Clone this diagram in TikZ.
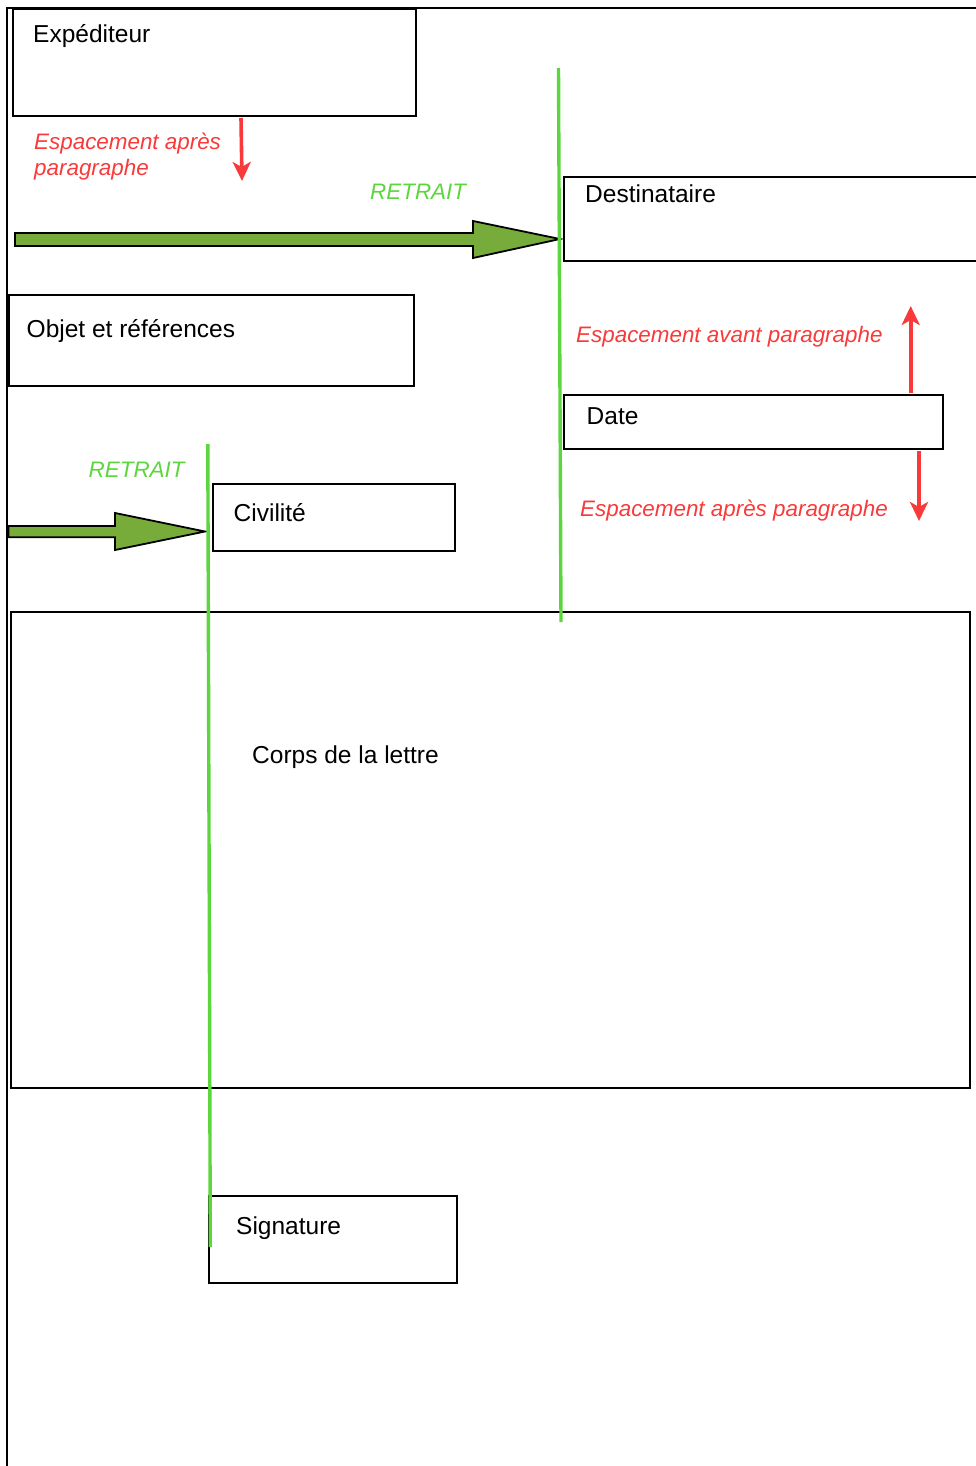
\documentclass[tikz,border=0pt]{standalone}
\usepackage{fontspec}
\setmainfont{Liberation Sans}
\usetikzlibrary{arrows.meta}
\definecolor{redc}{RGB}{248,58,58}
\definecolor{greenl}{RGB}{92,214,60}
\definecolor{greenf}{RGB}{120,172,58}
\tikzset{
  box/.style={draw=black, line width=2pt, inner sep=0pt, anchor=north west, fill=white},
  txt/.style={anchor=base west, inner sep=0pt, font=\fontsize{24.5}{28}\selectfont},
  redlab/.style={anchor=base west, inner sep=0pt, text=redc, font=\fontsize{22.4}{26}\selectfont\itshape},
  greenlab/.style={anchor=base west, inner sep=0pt, text=greenl, font=\fontsize{22.4}{26}\selectfont\itshape},
  redarrow/.style={draw=redc, line width=3.6pt, -{Stealth[length=19pt,width=18pt,inset=5pt]}},
  guide/.style={draw=greenl, line width=3.4pt},
  blockarrow/.style={draw=black, line width=1.8pt, fill=greenf, line join=miter},
  page/.style={draw=black, line width=2pt}
}
\begin{document}
\begin{tikzpicture}[x=1pt,y=-1pt]
\useasboundingbox (0,0) rectangle (975,1466);
% page outline
\coordinate (ptl) at (7,8);
\coordinate (ptr) at (990,8);
\coordinate (pbl) at (7,1470);
\draw[page] (ptr) -- (ptl) -- (pbl);
% boxes
\node[box, minimum width=403pt, minimum height=106.5pt] (exp) at (11.5,8.5) {};
\node[box, minimum width=430pt, minimum height=83pt] (dest) at (563.3,176.5) {};
\node[box, minimum width=405pt, minimum height=91pt] (obj) at (7.6,294) {};
\node[box, minimum width=379pt, minimum height=54.5pt] (date) at (563.3,393.5) {};
\node[box, minimum width=241.5pt, minimum height=67pt] (civ) at (212.4,482.5) {};
\node[box, minimum width=959pt, minimum height=476pt] (corps) at (9.5,611) {};
\node[box, minimum width=248pt, minimum height=87pt] (sig) at (208.3,1195) {};
% texts
\node[txt] (texp) at (33,43) {Expéditeur};
\node[txt] (tdest) at (585,203) {Destinataire};
\node[txt] (tobj) at (26.5,337) {Objet et références};
\node[txt] (tdate) at (586.5,424) {Date};
\node[txt] (tciv) at (233.5,521) {Civilité};
\node[txt] (tcorps) at (252,763) {Corps de la lettre};
\node[txt] (tsig) at (236,1234) {Signature};
% red labels
\node[redlab] (r1a) at (34,150) {Espacement après};
\node[redlab] (r1b) at (34,176) {paragraphe};
\node[redlab] (r2) at (576,342) {Espacement avant paragraphe};
\node[redlab] (r3) at (580,516) {Espacement après paragraphe};
% green labels
\node[greenlab] (g1) at (370,200) {RETRAIT};
\node[greenlab] (g2) at (88.5,477) {RETRAIT};
% red arrows
\coordinate (a1s) at (241,118);
\coordinate (a1e) at (242,181);
\draw[redarrow] (a1s) -- (a1e);
\coordinate (a2s) at (910.7,393);
\coordinate (a2e) at (910.7,306);
\draw[redarrow] (a2s) -- (a2e);
\coordinate (a3s) at (919,451);
\coordinate (a3e) at (919,521);
\draw[redarrow] (a3s) -- (a3e);
% green block arrows
\draw[blockarrow] (15,233) -- (473,233) -- (473,221) -- (560,239) -- (473,258) -- (473,246) -- (15,246) -- cycle;
\draw[blockarrow] (8.4,526) -- (115,526) -- (115,513) -- (205,531.5) -- (115,550) -- (115,537.3) -- (8.4,537.3) -- cycle;
% green guide lines
\coordinate (l1t) at (558.5,68);
\coordinate (l1b) at (561,622);
\draw[guide] (l1t) -- (l1b);
\coordinate (l2t) at (207.8,444);
\coordinate (l2b) at (210.3,1247);
\draw[guide] (l2t) -- (l2b);
\end{tikzpicture}
\end{document}
